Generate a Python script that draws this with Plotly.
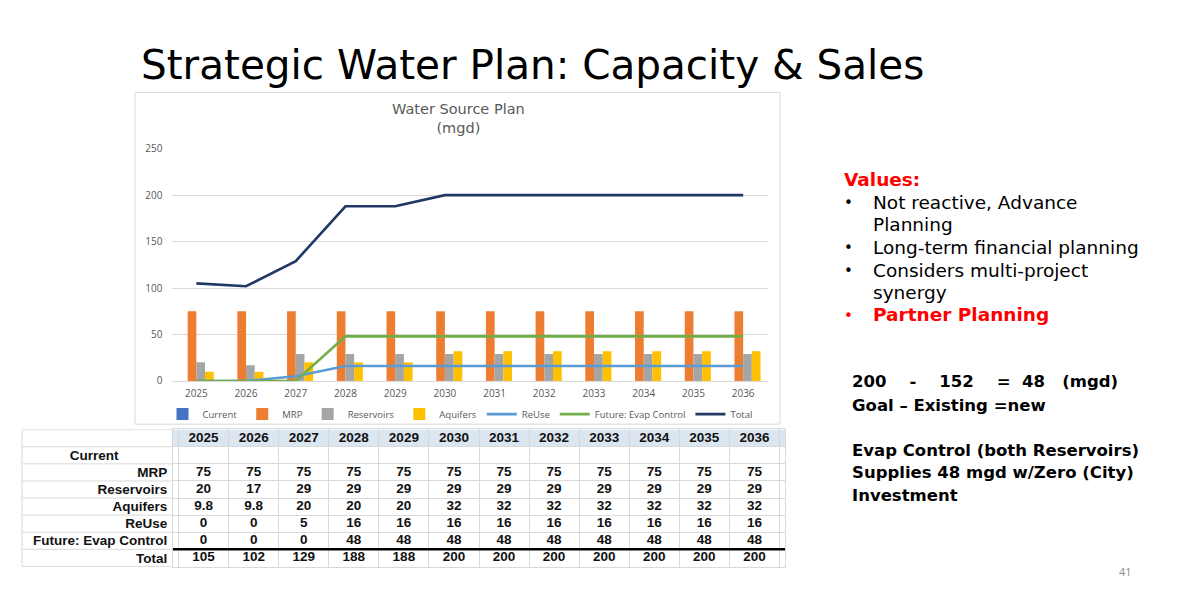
import plotly.graph_objects as go

# data
years = ['2025', '2026', '2027', '2028', '2029', '2030', '2031', '2032', '2033', '2034', '2035', '2036']
current = [None] * 12
mrp = [75, 75, 75, 75, 75, 75, 75, 75, 75, 75, 75, 75]
reservoirs = [20, 17, 29, 29, 29, 29, 29, 29, 29, 29, 29, 29]
aquifers = [9.8, 9.8, 20, 20, 20, 32, 32, 32, 32, 32, 32, 32]
reuse = [0, 0, 5, 16, 16, 16, 16, 16, 16, 16, 16, 16]
evap_control = [0, 0, 0, 48, 48, 48, 48, 48, 48, 48, 48, 48]
total = [105, 102, 129, 188, 188, 200, 200, 200, 200, 200, 200, 200]
row_labels = ['Current', 'MRP', 'Reservoirs', 'Aquifers', 'ReUse', 'Future: Evap Control', 'Total']
y_ticks = [0, 50, 100, 150, 200, 250]

W, H = 1188, 594
# the page photo comes out squeezed a little vertically (8px top offset, 578px tall),
# so positions are worked out against that
Y_OFF, Y_SCALE = 8, 578 / 594


def px(x):
    return x / W


def py(y):
    return 1 - ((y - Y_OFF) / Y_SCALE) / H


GRAY_TXT = '#595959'
GRID = '#d9d9d9'
nb = '\u00a0'

fig = go.Figure()

# bars (Current has no values but keeps its slot and legend entry)
bar_specs = [('Current', current, '#4472C4'),
             ('MRP', mrp, '#ED7D31'),
             ('Reservoirs', reservoirs, '#A5A5A5'),
             ('Aquifers', aquifers, '#FFC000')]
for name, vals, col in bar_specs:
    fig.add_trace(go.Bar(x=years, y=vals, name=name, marker=dict(color=col, line_width=0)))

# lines
line_specs = [('ReUse', reuse, '#5B9BD5'),
              ('Future: Evap Control', evap_control, '#70AD47'),
              ('Total', total, '#203864')]
for name, vals, col in line_specs:
    fig.add_trace(go.Scatter(x=years, y=vals, name=name, mode='lines',
                             line=dict(color=col, width=2.6)))

# ---- data table, built on its own pair of category axes ----
def fmt(v):
    return '' if v is None else f'{v:g}'


table_cats = ['year'] + row_labels
table_ticks = [''] + ['<b>%s</b>' % r for r in row_labels]
table_ticks[1] = '<b>Current</b>' + nb * 13   # centred in the label column
TFONT = dict(family='Liberation Sans', size=13.5, color='#111111')

# header row with the years
fig.add_trace(go.Scatter(x=years, y=['year'] * len(years), text=['<b>%s</b>' % y for y in years],
                         mode='text', textfont=TFONT, xaxis='x2', yaxis='y2',
                         showlegend=False, hoverinfo='skip'))
series_rows = [current, mrp, reservoirs, aquifers, reuse, evap_control, total]
for label, vals in zip(row_labels, series_rows):
    fig.add_trace(go.Scatter(x=years, y=[label] * len(years),
                             text=['<b>%s</b>' % fmt(v) for v in vals],
                             mode='text', textfont=TFONT, xaxis='x2', yaxis='y2',
                             showlegend=False, hoverinfo='skip'))

fig.update_layout(
    width=W, height=H, autosize=False,
    margin=dict(l=0, r=0, t=0, b=0),
    paper_bgcolor='white', plot_bgcolor='white',
    barmode='group', bargap=0.3, bargroupgap=0,
    font=dict(family='Open Sans', color=GRAY_TXT),
    xaxis=dict(domain=[px(171.5), px(768)], showgrid=False, ticks='',
               showline=True, linecolor=GRID, linewidth=1, ticklabelstandoff=3,
               tickfont=dict(size=10, color=GRAY_TXT)),
    yaxis=dict(domain=[py(380), py(149)], range=[0, 250], tickvals=y_ticks,
               showgrid=True, gridcolor=GRID, gridwidth=1, zeroline=False,
               showline=False, ticks='', ticklabelstandoff=8,
               tickfont=dict(size=10, color=GRAY_TXT)),
    xaxis2=dict(domain=[px(173), px(785)], anchor='y2', type='category',
                categoryorder='array', categoryarray=years,
                showticklabels=False, ticks='', tickson='boundaries',
                showgrid=True, gridcolor=GRID, gridwidth=1,
                showline=True, mirror=True, linecolor=GRID, linewidth=1,
                fixedrange=True),
    yaxis2=dict(domain=[py(565), py(428)], anchor='x2', type='category',
                categoryorder='array', categoryarray=table_cats, autorange='reversed',
                tickvals=table_cats, ticktext=table_ticks, tickson='boundaries',
                ticks='', ticklabelstandoff=2,
                tickfont=dict(family='Liberation Sans', size=13.5, color='#111111'),
                showgrid=True, gridcolor=GRID, gridwidth=1,
                showline=True, mirror=True, linecolor=GRID, linewidth=1,
                fixedrange=True),
    legend=dict(orientation='h', x=px(460), y=py(413), xanchor='center', yanchor='middle',
                font=dict(family='Open Sans', size=9.5, color=GRAY_TXT), itemwidth=30,
                tracegroupgap=0, bgcolor='rgba(0,0,0,0)'),
)

# header band behind the years
fig.add_shape(type='rect', xref='x2 domain', yref='y2', x0=0, x1=1, y0=-0.5, y1=0.5,
              fillcolor='#dce6f1', line_width=0, layer='below')
# row rules carried across the label column
for k in range(len(table_cats) + 1):
    fig.add_shape(type='line', xref='paper', yref='y2', x0=px(22), x1=px(173),
                  y0=k - 0.5, y1=k - 0.5, line=dict(color=GRID, width=1))
fig.add_shape(type='line', xref='paper', yref='y2', x0=px(22), x1=px(22),
              y0=-0.5, y1=len(table_cats) - 0.5, line=dict(color=GRID, width=1))
# thick rule above Total row
fig.add_shape(type='line', xref='x2 domain', yref='y2', x0=0, x1=1,
              y0=len(table_cats) - 1.5, y1=len(table_cats) - 1.5,
              line=dict(color='black', width=2.5))

# chart frame
fig.add_shape(type='rect', xref='paper', yref='paper',
              x0=px(135), x1=px(780), y0=py(423), y1=py(93),
              line=dict(color=GRID, width=1), fillcolor='rgba(0,0,0,0)', layer='below')

# slide title
fig.add_annotation(text='Strategic Water Plan: Capacity &amp; Sales', xref='paper', yref='paper',
                   x=px(139), y=py(66), xanchor='left', yanchor='middle', showarrow=False,
                   font=dict(family='DejaVu Sans', size=40.5, color='black'))

# chart title
fig.add_annotation(text='Water Source Plan<br>(mgd)', xref='paper', yref='paper',
                   x=px(458), y=py(119), xanchor='center', yanchor='middle', showarrow=False,
                   font=dict(family='DejaVu Sans', size=14.5, color=GRAY_TXT))

# right side notes
notes = [
    (842, 180, 'Values:', 'red', 'bold'),
    (871, 202, 'Not reactive, Advance', 'black', 'normal'),
    (871, 224, 'Planning', 'black', 'normal'),
    (871, 247, 'Long-term financial planning', 'black', 'normal'),
    (871, 270, 'Considers multi-project', 'black', 'normal'),
    (871, 292, 'synergy', 'black', 'normal'),
    (871, 314, 'Partner Planning', 'red', 'bold'),
]
for x, y, t, c, w in notes:
    fig.add_annotation(text=t, xref='paper', yref='paper', x=px(x), y=py(y),
                       xanchor='left', yanchor='middle', showarrow=False,
                       font=dict(family='DejaVu Sans', size=18.5, color=c, weight=w))
for y, c in [(202, 'black'), (247, 'black'), (270, 'black'), (314, 'red')]:
    fig.add_annotation(text='•', xref='paper', yref='paper', x=px(842), y=py(y + 1),
                       xanchor='left', yanchor='middle', showarrow=False,
                       font=dict(family='DejaVu Sans', size=15, color=c))

bold_notes = [
    (381, '200' + nb * 4 + '-' + nb * 4 + '152' + nb * 4 + '=' + nb * 2 + '48' + nb * 3 + '(mgd)'),
    (404, 'Goal – Existing =new'),
    (449, 'Evap Control (both Reservoirs)'),
    (471, 'Supplies 48 mgd w/Zero (City)'),
    (494, 'Investment'),
]
for y, t in bold_notes:
    fig.add_annotation(text=t, xref='paper', yref='paper', x=px(850), y=py(y),
                       xanchor='left', yanchor='middle', showarrow=False,
                       font=dict(family='DejaVu Sans', size=16.5, color='black', weight='bold'))

# page number
fig.add_annotation(text='41', xref='paper', yref='paper', x=px(1125), y=py(570),
                   xanchor='center', yanchor='middle', showarrow=False,
                   font=dict(family='Open Sans', size=11, color='#8c8c8c'))

fig.write_html('out.html', config={'displayModeBar': False},
               post_script="document.body.style.margin='0px';")
